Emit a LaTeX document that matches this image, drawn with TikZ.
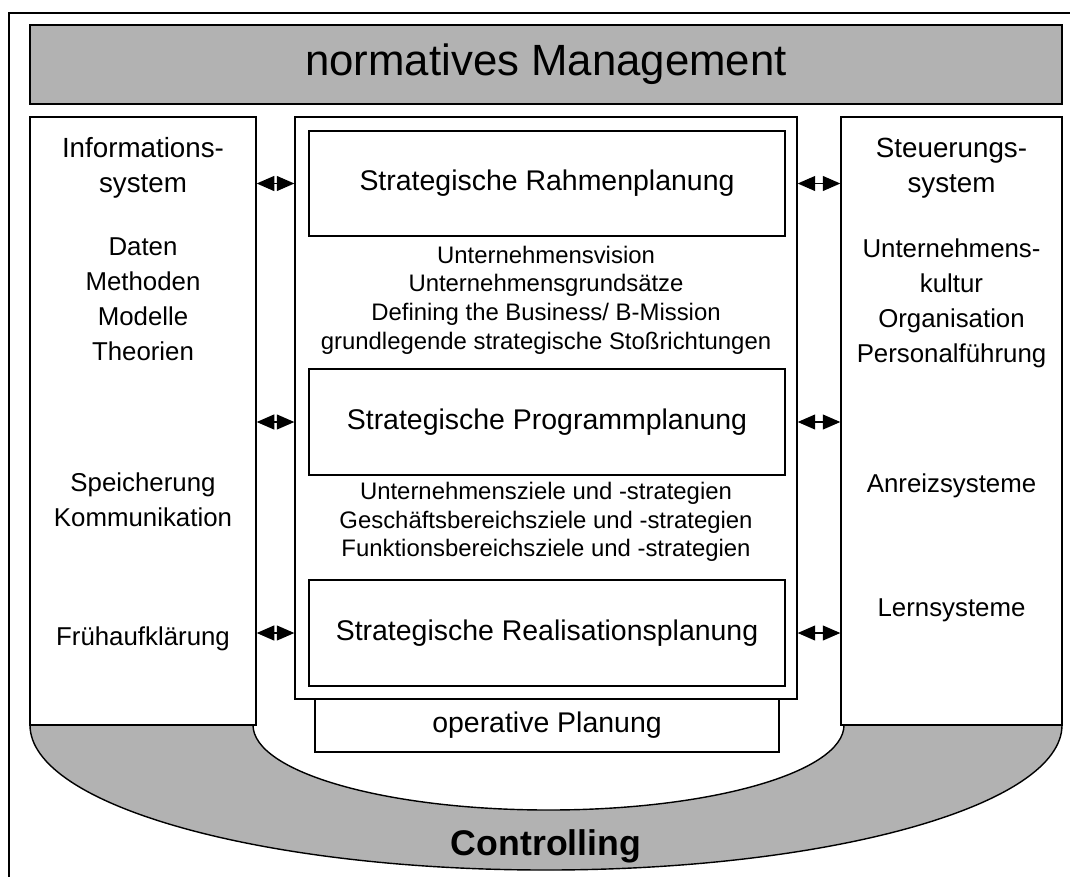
\documentclass[tikz,border=0pt]{standalone}
\usepackage{fontspec}
\setmainfont{Liberation Sans}
\usetikzlibrary{arrows.meta}
\definecolor{mgrey}{RGB}{178,178,178}

\begin{document}
\begin{tikzpicture}[x = 0.02cm, y = -0.02cm]
\tikzstyle{BoxStyle}=[shape = rectangle, draw, line width = 0.8pt,
                      fill = white, inner sep = 0pt]
\tikzstyle{TitleStyle}=[font = \fontsize{16.2}{19}\selectfont]
\tikzstyle{SideStyle}=[align = center, inner sep = 0pt,
                       font = \fontsize{14.7}{19.9}\selectfont]
\tikzstyle{ListStyle}=[align = center, inner sep = 0pt,
                       font = \fontsize{13.6}{16.3}\selectfont]
\tikzstyle{ArrowStyle}=[line width = 0.8pt,
                        {Triangle[length = 10pt, width = 8.5pt]}-{Triangle[length = 10pt, width = 8.5pt]}]
\useasboundingbox (0,0) rectangle (1070,876);
\draw[line width = 0.8pt] (9,13) rectangle (1090,900);
\filldraw[fill = mgrey, line width = 0.8pt] (30,725) -- (253,725)
  arc[start angle = 180, end angle = 0, x radius = 295.5, y radius = 85] -- (1062,725)
  arc[start angle = 0, end angle = 180, x radius = 516, y radius = 145] -- cycle;
\node[BoxStyle, fill = mgrey, minimum width = 20.64cm, minimum height = 1.58cm,
      font = \fontsize{24.9}{30}\selectfont] (norm) at (546,64.5) {normatives Management};
\node[BoxStyle, minimum width = 4.52cm, minimum height = 12.16cm] (info) at (143,421) {};
\node[BoxStyle, minimum width = 4.42cm, minimum height = 12.16cm] (steuer) at (951.5,421) {};
\node[BoxStyle, TitleStyle, minimum width = 9.28cm, minimum height = 1.06cm] (operativ) at (547,725.5) {operative Planung};
\node[BoxStyle, minimum width = 10.04cm, minimum height = 11.64cm] (mitte) at (546,408) {};
\node[BoxStyle, TitleStyle, minimum width = 9.52cm, minimum height = 2.1cm] (rahmen) at (547,183.5) {Strategische Rahmenplanung};
\node[BoxStyle, TitleStyle, minimum width = 9.52cm, minimum height = 2.12cm] (programm) at (547,422) {Strategische Programmplanung};
\node[BoxStyle, TitleStyle, minimum width = 9.52cm, minimum height = 2.12cm] (real) at (547,633) {Strategische Realisationsplanung};
\node[ListStyle] (rahmenliste) at (546,300) {Unternehmensvision\\Unternehmensgrundsätze\\Defining the Business/ B-Mission\\grundlegende strategische Stoßrichtungen};
\node[ListStyle] (programmliste) at (546,522) {Unternehmensziele und -strategien\\Geschäftsbereichsziele und -strategien\\Funktionsbereichsziele und -strategien};
\node[SideStyle, font = \fontsize{15.8}{19.9}\selectfont] (infotitel) at (143,168) {Informations-\\system};
\node[SideStyle] (infoliste) at (143,299) {Daten\\Methoden\\Modelle\\Theorien};
\node[SideStyle] (speicher) at (143,500) {Speicherung\\Kommunikation};
\node[SideStyle] (frueh) at (143,639) {Frühaufklärung};
\node[SideStyle, font = \fontsize{15.8}{19.9}\selectfont] (steuertitel) at (951.5,168) {Steuerungs-\\system};
\node[SideStyle] (steuerliste) at (951.5,303) {Unternehmens-\\kultur\\Organisation\\Personalführung};
\node[SideStyle] (anreiz) at (951.5,485.5) {Anreizsysteme};
\node[SideStyle] (lern) at (951.5,610.5) {Lernsysteme};
\node[inner sep = 0pt, font = \fontsize{20.3}{24}\selectfont\bfseries] (controlling) at (546,846) {Controlling};
\foreach \b in {rahmen, programm, real} {
  \draw[ArrowStyle] (info.east |- \b) -- (mitte.west |- \b);
  \draw[ArrowStyle] (mitte.east |- \b) -- (steuer.west |- \b);
}
\end{tikzpicture}
\end{document}
